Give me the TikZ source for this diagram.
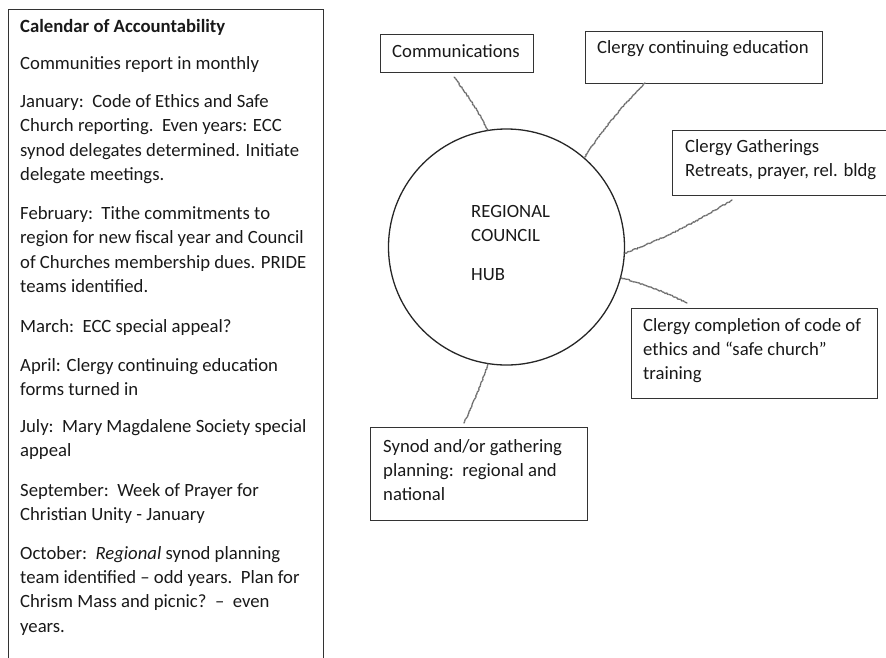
\documentclass[tikz,border=0pt]{standalone}
\usepackage{fontspec}
\setmainfont{Carlito}
\usetikzlibrary{decorations.pathmorphing}
\begin{document}
\begin{tikzpicture}[x=1pt,y=-1pt,
  every node/.style={font=\fontsize{18.7}{24.5}\selectfont, inner sep=0pt, text=black!90},
  txt/.style={anchor=base west},
  frame/.style={draw=black!80, line width=1.3pt, anchor=north west, inner sep=0pt},
  hubstyle/.style={draw=black!85, line width=1.3pt, circle, minimum size=236pt, inner sep=0pt},
  sketch/.style={draw=black!45, line width=1.4pt, line cap=round, decorate,
     decoration={random steps, segment length=1.6pt, amplitude=0.55pt},
     postaction={draw=black!65, line width=0.6pt, dash pattern=on 1.2pt off 1.5pt}}]
\useasboundingbox (0,0) rectangle (886,657);
% left calendar box (bottom runs off the page)
\node[frame, minimum width=315pt, minimum height=670pt] (cal) at (8,9) {};
\node[txt] (t0) at (20,32) {\bfseries Calendar of Accountability};
\node[txt] (t1) at (20,69) {Communities report in monthly};
\node[txt] (t2) at (20,107) {January:\ \ Code of Ethics and Safe};
\node[txt] (t3) at (20,131.5) {Church reporting.\ \ Even years: ECC};
\node[txt] (t4) at (20,156) {synod delegates determined. Initiate};
\node[txt] (t5) at (20,180.5) {delegate meetings.};
\node[txt] (t6) at (20,219) {February:\ \ Tithe commitments to};
\node[txt] (t7) at (20,243.5) {region for new fiscal year and Council};
\node[txt] (t8) at (20,268) {of Churches membership dues. PRIDE};
\node[txt] (t9) at (20,292.5) {teams identified.};
\node[txt] (t10) at (20,332) {March:\ \ ECC special appeal?};
\node[txt] (t11) at (20,371) {April: Clergy continuing education};
\node[txt] (t12) at (20,395) {forms turned in};
\node[txt] (t13) at (20,432) {July:\ \ Mary Magdalene Society special};
\node[txt] (t14) at (20,456) {appeal};
\node[txt] (t15) at (20,496) {September:\ \ Week of Prayer for};
\node[txt] (t16) at (20,520) {Christian Unity - January};
\node[txt] (t17) at (20,559) {October:\ \ \textit{Regional} synod planning};
\node[txt] (t18) at (20,583) {team identified -- odd years.\ \ Plan for};
\node[txt] (t19) at (20,607.5) {Chrism Mass and picnic?\ \ --\ \ even};
\node[txt] (t20) at (20,632) {years.};
% hub
\node[hubstyle] (hub) at (506.5,247) {};
\node[txt] (h1) at (471,217) {REGIONAL};
\node[txt] (h2) at (471,241) {COUNCIL};
\node[txt] (h3) at (471,280) {HUB};
% boxes
\node[frame, minimum width=153pt, minimum height=38pt] (comm) at (380,34) {};
\node[txt] (commt) at (392,57) {Communications};
\node[frame, minimum width=237pt, minimum height=52pt] (cce) at (585,31) {};
\node[txt] (ccet) at (597,53) {Clergy continuing education};
\node[frame, minimum width=230pt, minimum height=65pt] (gath) at (672,130) {};
\node[txt] (gath1) at (685,152) {Clergy Gatherings};
\node[txt] (gath2) at (685,176) {Retreats, prayer, rel. bldg};
\node[frame, minimum width=246pt, minimum height=90pt] (comp) at (631,308) {};
\node[txt] (comp1) at (643,331) {Clergy completion of code of};
\node[txt] (comp2) at (643,355) {ethics and \textquotedblleft safe church\textquotedblright};
\node[txt] (comp3) at (643,379) {training};
\node[frame, minimum width=217pt, minimum height=93pt] (syn) at (370,427) {};
\node[txt] (syn1) at (383,452) {Synod and/or gathering};
\node[txt] (syn2) at (383,476) {planning:\ \ regional and};
\node[txt] (syn3) at (383,500) {national};
% connector free ends
\coordinate (ec) at (454,77);
\coordinate (ee) at (645,83);
\coordinate (eg) at (732,200);
\coordinate (ep) at (687,303);
\coordinate (es) at (464,423);
\draw[sketch] (ec) to[bend left=4] (hub.99.5);
\draw[sketch] (ee) to[bend right=5] (hub.49);
\draw[sketch] (eg) to[bend left=5] (hub.-3);
\draw[sketch] (hub.-15) to[bend left=5] (ep);
\draw[sketch] (hub.-99) to[bend left=3] (es);
\end{tikzpicture}
\end{document}
